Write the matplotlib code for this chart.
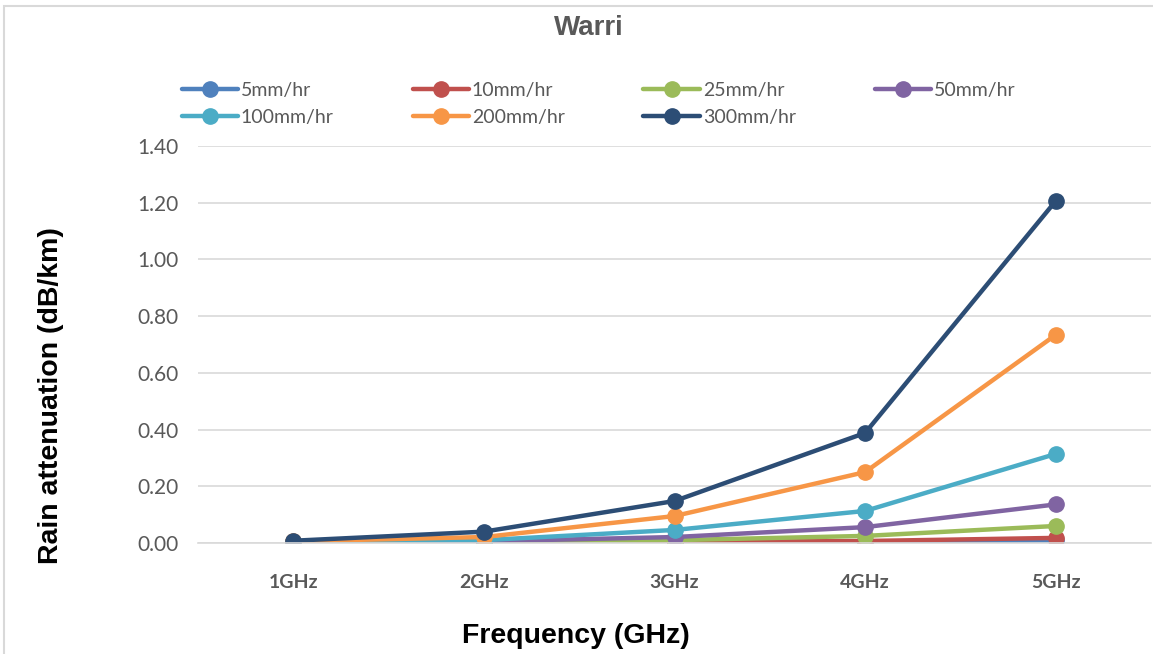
"""Warri: rain attenuation against frequency for several rain rates."""
import matplotlib
matplotlib.use("Agg")
import matplotlib.pyplot as plt
from matplotlib.patches import Rectangle

FREQS = ["1GHz", "2GHz", "3GHz", "4GHz", "5GHz"]
RATES = ["5mm/hr", "10mm/hr", "25mm/hr", "50mm/hr", "100mm/hr", "200mm/hr", "300mm/hr"]

att_5 = [0.000, 0.001, 0.002, 0.004, 0.009]
att_10 = [0.001, 0.002, 0.004, 0.007, 0.018]
att_25 = [0.002, 0.004, 0.010, 0.025, 0.060]
att_50 = [0.003, 0.006, 0.021, 0.056, 0.136]
att_100 = [0.005, 0.010, 0.046, 0.113, 0.314]
att_200 = [0.006, 0.021, 0.095, 0.250, 0.734]
att_300 = [0.008, 0.040, 0.148, 0.388, 1.206]

SERIES = [att_5, att_10, att_25, att_50, att_100, att_200, att_300]
COLOURS = ["#4f81bd", "#c0504d", "#9bbb59", "#8064a2", "#4bacc6", "#f79646", "#2c4d75"]

fig = plt.figure(figsize=(11.53, 6.54), dpi=100)
ax = fig.add_axes([198 / 1153, 1 - 543 / 654, (1151 - 198) / 1153, 397 / 654])

x = list(range(len(FREQS)))
handles = []
for vals, colour, label in zip(SERIES, COLOURS, RATES):
    h, = ax.plot(x, vals, color=colour, lw=3.2, marker="o", ms=11, label=label,
                 solid_capstyle="round")
    handles.append(h)

ax.set_xlim(-0.5, len(FREQS) - 0.5)
ax.set_ylim(0, 1.4)
ax.set_yticks([i * 0.2 for i in range(8)])
ax.set_yticklabels([f"{i * 0.2:.2f}" for i in range(8)], fontsize=15,
                   color="#595959", family="Lato")
ax.set_xticks(x)
ax.set_xticklabels(FREQS, fontsize=14, fontweight="bold", color="#595959",
                   family="Lato")
ax.tick_params(length=0)
ax.tick_params(axis="y", pad=14)
ax.tick_params(axis="x", pad=22)
ax.grid(axis="y", color="#d9d9d9", lw=1.2)
ax.set_axisbelow(True)
for s in ("top", "right", "left"):
    ax.spines[s].set_visible(False)
ax.spines["bottom"].set_color("#d9d9d9")
ax.spines["bottom"].set_linewidth(1.2)

fig.text(51 / 1153, 1 - 396 / 654, "Rain attenuation (dB/km)", rotation=90,
         ha="center", va="center", fontsize=20.5, fontweight="bold",
         family="Liberation Sans")
fig.text(576 / 1153, 1 - 636 / 654, "Frequency (GHz)", ha="center", va="center",
         fontsize=20.5, fontweight="bold", family="Liberation Sans")
fig.text(589 / 1153, 1 - 28 / 654, "Warri", ha="center", va="center",
         fontsize=20, fontweight="bold", color="#595959",
         family=["Liberation Sans Narrow", "Liberation Sans"])

# legend fills row by row in the reference
order = [0, 4, 1, 5, 2, 6, 3]
leg = fig.legend([handles[i] for i in order], [RATES[i] for i in order],
                 loc="upper left", bbox_to_anchor=(168 / 1153, 1 - 68 / 654),
                 ncol=4, frameon=False, handlelength=2.9, handletextpad=0.15,
                 columnspacing=4.05, labelspacing=0.55, borderpad=0.2,
                 prop={"family": "Lato", "size": 14})
for t in leg.get_texts():
    t.set_color("#595959")

fig.patches.append(Rectangle((4 / 1153, -0.1), 1.2, 1 - 6 / 654 + 0.1,
                             transform=fig.transFigure, fill=False,
                             edgecolor="#d9d9d9", lw=1.5))

fig.savefig("out.png", dpi=100)
